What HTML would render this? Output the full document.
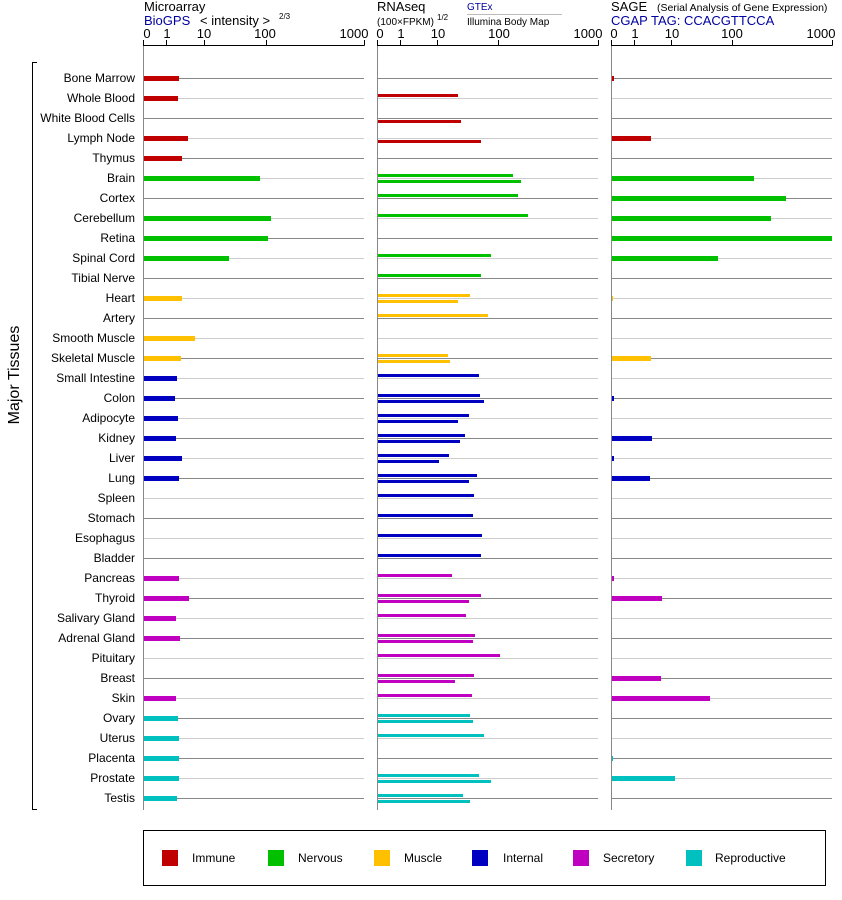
<!DOCTYPE html>
<html><head><meta charset="utf-8"><style>
body{margin:0;background:#fff;}
svg{display:block;font-family:"Liberation Sans",Arial,sans-serif;}
</style></head><body>
<svg width="842" height="900" viewBox="0 0 842 900">
<!-- headers -->
<text x="144" y="11" font-size="13">Microarray</text>
<text x="144" y="25" font-size="13" fill="#0000a0">BioGPS</text>
<text x="200" y="25" font-size="13">&lt; intensity &gt;</text>
<text x="279" y="19" font-size="8">2/3</text>
<text x="377" y="11" font-size="13">RNAseq</text>
<text x="377" y="25" font-size="10">(100×FPKM)</text>
<text x="437" y="20" font-size="8">1/2</text>
<text x="467" y="10" font-size="10" fill="#0000a0">GTEx</text>
<line x1="467" y1="14.5" x2="562" y2="14.5" stroke="#bbb"/>
<text x="467" y="25" font-size="10">Illumina Body Map</text>
<text x="611" y="11" font-size="13">SAGE</text>
<text x="657" y="11" font-size="10.5">(Serial Analysis of Gene Expression)</text>
<text x="611" y="25" font-size="13" fill="#0000a0">CGAP TAG: CCACGTTCCA</text>
<!-- axes -->
<g stroke="#000" fill="none" stroke-width="1">
<path d="M143.5 40V45.5H364.5M166.5 40V45.5M204.5 40V45.5M266.5 40V45.5M364.5 40V45.5"/>
<path d="M377.5 40V45.5H598.5M400.5 40V45.5M437.5 40V45.5M498.5 40V45.5M598.5 40V45.5"/>
<path d="M611.5 40V45.5H832.5M634.5 40V45.5M671.5 40V45.5M732.5 40V45.5M832.5 40V45.5"/>
</g>
<g font-size="13" text-anchor="middle">
<text x="147" y="38">0</text><text x="167" y="38">1</text><text x="204" y="38">10</text><text x="265" y="38">100</text><text x="354" y="38">1000</text>
<text x="380" y="38">0</text><text x="401" y="38">1</text><text x="438" y="38">10</text><text x="499" y="38">100</text><text x="588" y="38">1000</text>
<text x="614" y="38">0</text><text x="635" y="38">1</text><text x="672" y="38">10</text><text x="732" y="38">100</text><text x="821" y="38">1000</text>
</g>
<!-- vertical panel lines -->
<g stroke="#888"><line x1="143.5" y1="46" x2="143.5" y2="810"/><line x1="377.5" y1="46" x2="377.5" y2="810"/><line x1="611.5" y1="46" x2="611.5" y2="810"/></g>
<!-- grid lines -->
<g stroke-width="1">
<g stroke="#888">
<path d="M144 78.5H364M378 78.5H598M612 78.5H832M144 118.5H364M378 118.5H598M612 118.5H832M144 158.5H364M378 158.5H598M612 158.5H832M144 198.5H364M378 198.5H598M612 198.5H832M144 238.5H364M378 238.5H598M612 238.5H832M144 278.5H364M378 278.5H598M612 278.5H832M144 318.5H364M378 318.5H598M612 318.5H832M144 358.5H364M378 358.5H598M612 358.5H832M144 398.5H364M378 398.5H598M612 398.5H832M144 438.5H364M378 438.5H598M612 438.5H832M144 478.5H364M378 478.5H598M612 478.5H832M144 518.5H364M378 518.5H598M612 518.5H832M144 558.5H364M378 558.5H598M612 558.5H832M144 598.5H364M378 598.5H598M612 598.5H832M144 638.5H364M378 638.5H598M612 638.5H832M144 678.5H364M378 678.5H598M612 678.5H832M144 718.5H364M378 718.5H598M612 718.5H832M144 758.5H364M378 758.5H598M612 758.5H832M144 798.5H364M378 798.5H598M612 798.5H832"/>
</g>
<g stroke="#ccc">
<path d="M144 98.5H364M378 98.5H598M612 98.5H832M144 138.5H364M378 138.5H598M612 138.5H832M144 178.5H364M378 178.5H598M612 178.5H832M144 218.5H364M378 218.5H598M612 218.5H832M144 258.5H364M378 258.5H598M612 258.5H832M144 298.5H364M378 298.5H598M612 298.5H832M144 338.5H364M378 338.5H598M612 338.5H832M144 378.5H364M378 378.5H598M612 378.5H832M144 418.5H364M378 418.5H598M612 418.5H832M144 458.5H364M378 458.5H598M612 458.5H832M144 498.5H364M378 498.5H598M612 498.5H832M144 538.5H364M378 538.5H598M612 538.5H832M144 578.5H364M378 578.5H598M612 578.5H832M144 618.5H364M378 618.5H598M612 618.5H832M144 658.5H364M378 658.5H598M612 658.5H832M144 698.5H364M378 698.5H598M612 698.5H832M144 738.5H364M378 738.5H598M612 738.5H832M144 778.5H364M378 778.5H598M612 778.5H832"/>
</g>
</g>
<!-- labels -->
<g font-size="12" text-anchor="end">
<text x="135" y="82">Bone Marrow</text><text x="135" y="102">Whole Blood</text><text x="135" y="122">White Blood Cells</text><text x="135" y="142">Lymph Node</text><text x="135" y="162">Thymus</text>
<text x="135" y="182">Brain</text><text x="135" y="202">Cortex</text><text x="135" y="222">Cerebellum</text><text x="135" y="242">Retina</text><text x="135" y="262">Spinal Cord</text><text x="135" y="282">Tibial Nerve</text>
<text x="135" y="302">Heart</text><text x="135" y="322">Artery</text><text x="135" y="342">Smooth Muscle</text><text x="135" y="362">Skeletal Muscle</text>
<text x="135" y="382">Small Intestine</text><text x="135" y="402">Colon</text><text x="135" y="422">Adipocyte</text><text x="135" y="442">Kidney</text><text x="135" y="462">Liver</text><text x="135" y="482">Lung</text><text x="135" y="502">Spleen</text><text x="135" y="522">Stomach</text><text x="135" y="542">Esophagus</text><text x="135" y="562">Bladder</text>
<text x="135" y="582">Pancreas</text><text x="135" y="602">Thyroid</text><text x="135" y="622">Salivary Gland</text><text x="135" y="642">Adrenal Gland</text><text x="135" y="662">Pituitary</text><text x="135" y="682">Breast</text><text x="135" y="702">Skin</text>
<text x="135" y="722">Ovary</text><text x="135" y="742">Uterus</text><text x="135" y="762">Placenta</text><text x="135" y="782">Prostate</text><text x="135" y="802">Testis</text>
</g>
<path d="M37 62.5H32.5V809.5H37" stroke="#000" fill="none"/>
<text x="19" y="375" font-size="16" text-anchor="middle" transform="rotate(-90 19 375)">Major Tissues</text>
<!-- microarray bars (5px) -->
<g fill="#c00000"><rect x="144" y="76" width="35" height="5"/><rect x="144" y="96" width="34" height="5"/><rect x="144" y="136" width="44" height="5"/><rect x="144" y="156" width="38" height="5"/></g>
<g fill="#00c000"><rect x="144" y="176" width="116" height="5"/><rect x="144" y="216" width="127" height="5"/><rect x="144" y="236" width="124" height="5"/><rect x="144" y="256" width="85" height="5"/></g>
<g fill="#ffc000"><rect x="144" y="296" width="38" height="5"/><rect x="144" y="336" width="51" height="5"/><rect x="144" y="356" width="37" height="5"/></g>
<g fill="#0000c0"><rect x="144" y="376" width="33" height="5"/><rect x="144" y="396" width="31" height="5"/><rect x="144" y="416" width="34" height="5"/><rect x="144" y="436" width="32" height="5"/><rect x="144" y="456" width="38" height="5"/><rect x="144" y="476" width="35" height="5"/></g>
<g fill="#c000c0"><rect x="144" y="576" width="35" height="5"/><rect x="144" y="596" width="45" height="5"/><rect x="144" y="616" width="32" height="5"/><rect x="144" y="636" width="36" height="5"/><rect x="144" y="696" width="32" height="5"/></g>
<g fill="#00c0c0"><rect x="144" y="716" width="34" height="5"/><rect x="144" y="736" width="35" height="5"/><rect x="144" y="756" width="35" height="5"/><rect x="144" y="776" width="35" height="5"/><rect x="144" y="796" width="33" height="5"/></g>
<!-- RNAseq bars -->
<g fill="#c00000"><rect x="378" y="94" width="80" height="3"/><rect x="378" y="120" width="83" height="3"/><rect x="378" y="140" width="103" height="3"/></g>
<g fill="#00c000"><rect x="378" y="174" width="135" height="3"/><rect x="378" y="180" width="143" height="3"/><rect x="378" y="194" width="140" height="3"/><rect x="378" y="214" width="150" height="3"/><rect x="378" y="254" width="113" height="3"/><rect x="378" y="274" width="103" height="3"/></g>
<g fill="#ffc000"><rect x="378" y="294" width="92" height="3"/><rect x="378" y="300" width="80" height="3"/><rect x="378" y="314" width="110" height="3"/><rect x="378" y="354" width="70" height="3"/><rect x="378" y="360" width="72" height="3"/></g>
<g fill="#0000c0"><rect x="378" y="374" width="101" height="3"/><rect x="378" y="394" width="102" height="3"/><rect x="378" y="400" width="106" height="3"/><rect x="378" y="414" width="91" height="3"/><rect x="378" y="420" width="80" height="3"/><rect x="378" y="434" width="87" height="3"/><rect x="378" y="440" width="82" height="3"/><rect x="378" y="454" width="71" height="3"/><rect x="378" y="460" width="61" height="3"/><rect x="378" y="474" width="99" height="3"/><rect x="378" y="480" width="91" height="3"/><rect x="378" y="494" width="96" height="3"/><rect x="378" y="514" width="95" height="3"/><rect x="378" y="534" width="104" height="3"/><rect x="378" y="554" width="103" height="3"/></g>
<g fill="#c000c0"><rect x="378" y="574" width="74" height="3"/><rect x="378" y="594" width="103" height="3"/><rect x="378" y="600" width="91" height="3"/><rect x="378" y="614" width="88" height="3"/><rect x="378" y="634" width="97" height="3"/><rect x="378" y="640" width="95" height="3"/><rect x="378" y="654" width="122" height="3"/><rect x="378" y="674" width="96" height="3"/><rect x="378" y="680" width="77" height="3"/><rect x="378" y="694" width="94" height="3"/></g>
<g fill="#00c0c0"><rect x="378" y="714" width="92" height="3"/><rect x="378" y="720" width="95" height="3"/><rect x="378" y="734" width="106" height="3"/><rect x="378" y="774" width="101" height="3"/><rect x="378" y="780" width="113" height="3"/><rect x="378" y="794" width="85" height="3"/><rect x="378" y="800" width="92" height="3"/></g>
<!-- SAGE bars -->
<g fill="#c00000"><rect x="612" y="76" width="2" height="5"/><rect x="612" y="136" width="39" height="5"/></g>
<g fill="#00c000"><rect x="612" y="176" width="142" height="5"/><rect x="612" y="196" width="174" height="5"/><rect x="612" y="216" width="159" height="5"/><rect x="612" y="236" width="220" height="5"/><rect x="612" y="256" width="106" height="5"/></g>
<g fill="#ffc000"><rect x="612" y="296" width="1" height="5"/><rect x="612" y="356" width="39" height="5"/></g>
<g fill="#0000c0"><rect x="612" y="396" width="2" height="5"/><rect x="612" y="436" width="40" height="5"/><rect x="612" y="456" width="2" height="5"/><rect x="612" y="476" width="38" height="5"/></g>
<g fill="#c000c0"><rect x="612" y="576" width="2" height="5"/><rect x="612" y="596" width="50" height="5"/><rect x="612" y="676" width="49" height="5"/><rect x="612" y="696" width="98" height="5"/></g>
<g fill="#00c0c0"><rect x="612" y="756" width="1" height="5"/><rect x="612" y="776" width="63" height="5"/></g>
<!-- legend -->
<rect x="143.5" y="830.5" width="682" height="55" fill="none" stroke="#000"/>
<g font-size="12">
<rect x="162" y="850" width="16" height="16" fill="#c00000"/><text x="192" y="862">Immune</text>
<rect x="268" y="850" width="16" height="16" fill="#00c000"/><text x="298" y="862">Nervous</text>
<rect x="374" y="850" width="16" height="16" fill="#ffc000"/><text x="404" y="862">Muscle</text>
<rect x="472" y="850" width="16" height="16" fill="#0000c0"/><text x="503" y="862">Internal</text>
<rect x="573" y="850" width="16" height="16" fill="#c000c0"/><text x="603" y="862">Secretory</text>
<rect x="686" y="850" width="16" height="16" fill="#00c0c0"/><text x="715" y="862">Reproductive</text>
</g>
</svg>
</body></html>
